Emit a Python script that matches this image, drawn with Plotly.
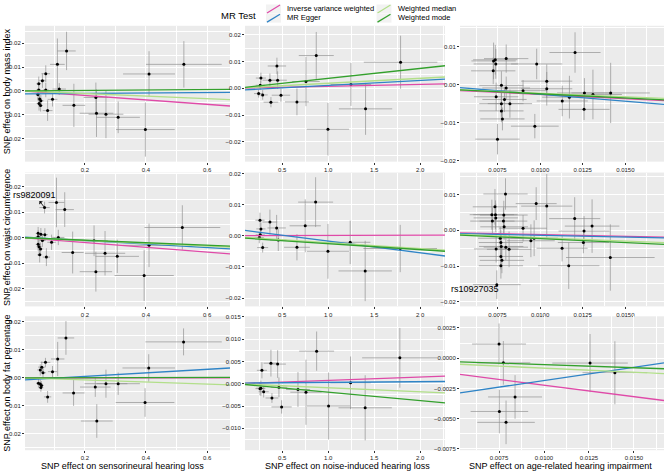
import plotly.graph_objects as go

W, H = 669, 476

# ---------------- data (SNP effects and standard errors) ----------------
# Row 1: body mass index ; Row 2: waist circumference ; Row 3: body fat percentage
# Col 1: sensorineural hearing loss ; Col 2: noise-induced hearing loss ; Col 3: age-related hearing impairment

bmi_snhl_x = [0.140, 0.110, 0.116, 0.072, 0.061, 0.049, 0.049, 0.072, 0.046, 0.052, 0.056, 0.055, 0.050, 0.078, 0.094, 0.164, 0.236, 0.238, 0.269, 0.309, 0.398, 0.410, 0.524]
bmi_snhl_xse = [0.030, 0.024, 0.022, 0.014, 0.010, 0.008, 0.008, 0.010, 0.007, 0.008, 0.009, 0.008, 0.008, 0.016, 0.016, 0.037, 0.040, 0.055, 0.057, 0.071, 0.096, 0.085, 0.124]
bmi_snhl_y = [0.0167, 0.0111, 0.0008, 0.0072, 0.0043, 0.0030, 0.0004, 0.0004, -0.0015, -0.0033, -0.0041, -0.0061, -0.0052, -0.0082, -0.0035, -0.0060, -0.0027, -0.0093, -0.0097, -0.0110, -0.0161, 0.0071, 0.0111]
bmi_snhl_yse = [0.0080, 0.0108, 0.0025, 0.0035, 0.0030, 0.0030, 0.0030, 0.0030, 0.0025, 0.0025, 0.0025, 0.0025, 0.0030, 0.0043, 0.0030, 0.0090, 0.0062, 0.0099, 0.0100, 0.0066, 0.0113, 0.0095, 0.0097]

bmi_nihl_x = [0.268, 0.261, 0.243, 0.287, 0.366, 0.377, 0.442, 0.450, 0.486, 0.660, 0.758, 0.870, 0.997, 1.247, 1.406, 1.787]
bmi_nihl_xse = [0.055, 0.050, 0.050, 0.055, 0.080, 0.080, 0.100, 0.100, 0.100, 0.130, 0.150, 0.190, 0.230, 0.220, 0.290, 0.400]
bmi_nihl_y = [0.0038, 0.0011, -0.0020, -0.0025, 0.0030, -0.0052, 0.0083, 0.0030, -0.0026, -0.0051, 0.0025, 0.0122, -0.0153, 0.0014, -0.0077, 0.0097]
bmi_nihl_yse = [0.0020, 0.0017, 0.0015, 0.0018, 0.0025, 0.0019, 0.0031, 0.0033, 0.0025, 0.0050, 0.0092, 0.0088, 0.0098, 0.0080, 0.0097, 0.0099]

bmi_arhi_x = [0.00727, 0.00737, 0.00740, 0.00725, 0.00801, 0.00773, 0.00801, 0.00742, 0.00791, 0.00773, 0.00823, 0.00773, 0.00779, 0.00750, 0.00900, 0.00980, 0.01039, 0.01039, 0.00969, 0.01205, 0.01130, 0.01172, 0.01260, 0.01258, 0.01310, 0.01414]
bmi_arhi_xse = [0.0013, 0.0013, 0.0013, 0.0013, 0.0013, 0.0013, 0.0014, 0.0013, 0.0013, 0.0013, 0.0013, 0.0013, 0.0013, 0.0013, 0.0014, 0.0015, 0.0015, 0.0015, 0.0014, 0.0015, 0.0015, 0.0016, 0.0016, 0.0015, 0.0017, 0.0023]
bmi_arhi_y = [0.0062, 0.0065, 0.0054, 0.0036, 0.0068, -0.0002, -0.0009, -0.0032, -0.0039, -0.0050, -0.0050, -0.0069, -0.0090, -0.0143, -0.0016, 0.0054, 0.0009, -0.0011, -0.0109, 0.0084, -0.0043, -0.0033, -0.0022, -0.0065, -0.0026, -0.0022]
bmi_arhi_yse = [0.0048, 0.0039, 0.0039, 0.0035, 0.0037, 0.0037, 0.0030, 0.0037, 0.0033, 0.0034, 0.0037, 0.0030, 0.0030, 0.0040, 0.0028, 0.0040, 0.0044, 0.0044, 0.0032, 0.0053, 0.0040, 0.0056, 0.0039, 0.0028, 0.0065, 0.0079]

wc_snhl_x = [0.068, 0.107, 0.134, 0.047, 0.056, 0.047, 0.069, 0.113, 0.047, 0.050, 0.055, 0.061, 0.052, 0.074, 0.091, 0.160, 0.230, 0.236, 0.266, 0.306, 0.394, 0.410, 0.519]
wc_snhl_xse = [0.017, 0.026, 0.030, 0.008, 0.009, 0.008, 0.010, 0.020, 0.008, 0.008, 0.009, 0.010, 0.008, 0.012, 0.014, 0.036, 0.045, 0.053, 0.066, 0.071, 0.097, 0.085, 0.124]
wc_snhl_y = [0.0118, 0.0138, 0.0110, 0.0017, 0.0013, 0.0004, 0.0012, 0.0001, -0.0026, -0.0035, -0.0044, -0.0011, -0.0067, -0.0076, -0.0018, -0.0058, -0.0012, -0.0133, -0.0061, -0.0073, -0.0148, -0.0030, 0.0040]
wc_snhl_yse = [0.0023, 0.0097, 0.0068, 0.0025, 0.0025, 0.0025, 0.0025, 0.0030, 0.0025, 0.0025, 0.0025, 0.0025, 0.0030, 0.0035, 0.0030, 0.0082, 0.0060, 0.0078, 0.0087, 0.0065, 0.0100, 0.0085, 0.0087]

wc_nihl_x = [0.258, 0.268, 0.261, 0.250, 0.287, 0.366, 0.439, 0.457, 0.660, 0.750, 0.863, 0.997, 1.239, 1.402, 1.783]
wc_nihl_xse = [0.050, 0.050, 0.050, 0.050, 0.060, 0.080, 0.100, 0.090, 0.140, 0.170, 0.190, 0.230, 0.220, 0.290, 0.400]
wc_nihl_y = [0.0050, 0.0022, 0.0003, -0.0006, -0.0038, 0.0044, 0.0025, -0.0014, -0.0037, 0.0032, 0.0108, -0.0050, -0.0021, -0.0113, -0.0041]
wc_nihl_yse = [0.0024, 0.0020, 0.0018, 0.0018, 0.0016, 0.0040, 0.0042, 0.0035, 0.0042, 0.0085, 0.0080, 0.0088, 0.0070, 0.0097, 0.0076]

wc_arhi_x = [0.00797, 0.00735, 0.00717, 0.00738, 0.00740, 0.00720, 0.00787, 0.00785, 0.00789, 0.00766, 0.00770, 0.00772, 0.00742, 0.00799, 0.00818, 0.00770, 0.00776, 0.00770, 0.00746, 0.00900, 0.00946, 0.00965, 0.00977, 0.01039, 0.01203, 0.01258, 0.01254, 0.01305, 0.01129, 0.01168, 0.01412]
wc_arhi_xse = [0.0013, 0.0013, 0.0013, 0.0013, 0.0013, 0.0013, 0.0014, 0.0014, 0.0014, 0.0013, 0.0013, 0.0013, 0.0013, 0.0013, 0.0013, 0.0013, 0.0013, 0.0013, 0.0014, 0.0014, 0.0014, 0.0014, 0.0012, 0.0015, 0.0015, 0.0015, 0.0015, 0.0016, 0.0015, 0.0018, 0.0026]
wc_arhi_y = [0.0102, 0.0066, 0.0044, 0.0044, 0.0035, 0.0026, 0.0043, 0.0026, 0.0010, -0.0022, -0.0034, -0.0045, -0.0052, -0.0047, -0.0053, -0.0073, -0.0084, -0.0099, -0.0152, 0.0006, -0.0029, -0.0022, 0.0075, 0.0068, 0.0033, -0.0002, -0.0034, 0.0012, -0.0050, -0.0099, -0.0076]
wc_arhi_yse = [0.0044, 0.0050, 0.0042, 0.0040, 0.0040, 0.0038, 0.0040, 0.0038, 0.0036, 0.0032, 0.0035, 0.0036, 0.0038, 0.0036, 0.0050, 0.0036, 0.0036, 0.0036, 0.0040, 0.0037, 0.0046, 0.0050, 0.0046, 0.0090, 0.0060, 0.0042, 0.0030, 0.0075, 0.0037, 0.0065, 0.0093]

bfp_snhl_x = [0.138, 0.111, 0.071, 0.059, 0.054, 0.063, 0.094, 0.048, 0.054, 0.058, 0.056, 0.078, 0.163, 0.234, 0.239, 0.269, 0.309, 0.397, 0.409, 0.523]
bfp_snhl_xse = [0.027, 0.022, 0.016, 0.012, 0.010, 0.010, 0.015, 0.008, 0.008, 0.008, 0.008, 0.012, 0.036, 0.050, 0.052, 0.070, 0.071, 0.096, 0.086, 0.125]
bfp_snhl_y = [0.0142, 0.0067, 0.0055, 0.0038, 0.0028, 0.0018, 0.0022, -0.0019, -0.0022, -0.0027, -0.0035, -0.0068, -0.0054, -0.0033, -0.0154, -0.0021, -0.0021, -0.0088, 0.0035, 0.0128]
bfp_snhl_yse = [0.0060, 0.0061, 0.0016, 0.0020, 0.0020, 0.0020, 0.0020, 0.0015, 0.0015, 0.0015, 0.0015, 0.0021, 0.0046, 0.0035, 0.0060, 0.0050, 0.0040, 0.0051, 0.0049, 0.0048]

bfp_nihl_x = [0.279, 0.268, 0.258, 0.298, 0.377, 0.450, 0.388, 0.464, 0.493, 0.671, 0.758, 0.874, 1.004, 1.243, 1.402, 1.779]
bfp_nihl_xse = [0.055, 0.050, 0.050, 0.055, 0.080, 0.090, 0.070, 0.090, 0.110, 0.130, 0.170, 0.190, 0.235, 0.220, 0.290, 0.410]
bfp_nihl_y = [0.0030, -0.0010, -0.0011, -0.0018, 0.0046, 0.0044, -0.0032, -0.0008, -0.0052, -0.0013, -0.0019, 0.0073, -0.0050, 0.0002, -0.0054, 0.0058]
bfp_nihl_yse = [0.0018, 0.0017, 0.0015, 0.0013, 0.0030, 0.0031, 0.0011, 0.0022, 0.0015, 0.0039, 0.0073, 0.0044, 0.0075, 0.0059, 0.0073, 0.0067]

bfp_arhi_x = [0.00750, 0.00774, 0.00839, 0.00752, 0.00789, 0.01256, 0.01394]
bfp_arhi_xse = [0.0015, 0.0015, 0.0015, 0.0016, 0.0016, 0.0021, 0.0018]
bfp_arhi_y = [0.00117, -0.00038, -0.00320, -0.00440, -0.00530, -0.00040, -0.00120]
bfp_arhi_yse = [0.0017, 0.0018, 0.0018, 0.0018, 0.0018, 0.0024, 0.0026]

# MR estimates per panel, order: (1,1) (1,2) (1,3) (2,1) (2,2) (2,3) (3,1) (3,2) (3,3)
methods = ["Inverse variance weighted", "MR Egger", "Weighted median", "Weighted mode"]
ivw_slope = [-0.0093, 0.0007, -0.22, -0.0094, 0.0001, -0.100, 0.0000, 0.00075, -0.190]
ivw_int = [0, 0, -0.00039, 0, 0, -0.00017, 0, 0, -0.000327]
egger_slope = [0.00097, 0.00184, -0.368, -0.00686, -0.00377, -0.100, 0.00626, 0.00016, 0.2187]
egger_int = [-0.00125, -0.00077, 0.00115, 0.00023, 0.00206, -0.00037, -0.00073, 0.00013, -0.00403]
median_slope = [-0.0054, 0.00185, -0.184, -0.0055, -0.00189, -0.192, -0.0037, -0.0009, -0.0688]
median_int = [0, 0, -0.00042, 0, -0.00032, -0.0001, 0, 0, -0.000133]
mode_slope = [0.0010, 0.0037, -0.217, -0.0049, -0.00193, -0.217, 0.0002, -0.0019, -0.0503]
mode_int = [0, 0, -0.00025, 0, -0.0006, -0.00015, 0, 0, -0.000032]

row_titles = ["SNP effect on body mass index", "SNP effect on waist circumference", "SNP effect on body fat percentage"]
col_titles = ["SNP effect on sensorineural hearing loss", "SNP effect on noise-induced hearing loss", "SNP effect on age-related hearing impairment"]

# ---------------- layout / styling ----------------
COLORS = ["#df4aa8", "#2f84c6", "#b2df8a", "#33a02c"]
FONT = "Liberation Sans, Arial, sans-serif"
NARROW = "Liberation Sans Narrow, Liberation Sans, Arial, sans-serif"

def px_x(p):
    return p / W

def px_y(p):
    return 1 - p / H

col_dom = [(25, 230), (245, 445), (460, 664)]
row_dom = [(24, 161), (172, 307), (317, 452)]

panels = [
    (bmi_snhl_x, bmi_snhl_xse, bmi_snhl_y, bmi_snhl_yse),
    (bmi_nihl_x, bmi_nihl_xse, bmi_nihl_y, bmi_nihl_yse),
    (bmi_arhi_x, bmi_arhi_xse, bmi_arhi_y, bmi_arhi_yse),
    (wc_snhl_x, wc_snhl_xse, wc_snhl_y, wc_snhl_yse),
    (wc_nihl_x, wc_nihl_xse, wc_nihl_y, wc_nihl_yse),
    (wc_arhi_x, wc_arhi_xse, wc_arhi_y, wc_arhi_yse),
    (bfp_snhl_x, bfp_snhl_xse, bfp_snhl_y, bfp_snhl_yse),
    (bfp_nihl_x, bfp_nihl_xse, bfp_nihl_y, bfp_nihl_yse),
    (bfp_arhi_x, bfp_arhi_xse, bfp_arhi_y, bfp_arhi_yse),
]

x_ranges = [[0.004, 0.675], [0.095, 2.27], [0.0053, 0.01727],
            [0.004, 0.675], [0.095, 2.27], [0.0053, 0.01727],
            [0.004, 0.675], [0.095, 2.27], [0.00533, 0.01667]]
y_ranges = [[-0.0295, 0.0272], [-0.0274, 0.0233], [-0.0202, 0.0154],
            [-0.0269, 0.0255], [-0.0227, 0.0203], [-0.0213, 0.0162],
            [-0.0258, 0.0219], [-0.0149, 0.0151], [-0.0076, 0.00346]]
x_dt = [0.2, 0.5, 0.0025]
x_fmt = [".1f", ".1f", ".4f"]
y_dt = [0.01, 0.01, 0.01, 0.01, 0.01, 0.01, 0.01, 0.005, 0.0025]
y_fmt = [".2f", ".2f", ".2f", ".2f", ".2f", ".2f", ".2f", ".3f", ".4f"]

slopes = [ivw_slope, egger_slope, median_slope, mode_slope]
ints = [ivw_int, egger_int, median_int, mode_int]

fig = go.Figure()
layout = {}
for i, (bx, bxse, by, byse) in enumerate(panels):
    r, c = divmod(i, 3)
    n = i + 1
    xa = "x" if n == 1 else f"x{n}"
    ya = "y" if n == 1 else f"y{n}"
    fig.add_trace(go.Scatter(
        x=bx, y=by, mode="markers", xaxis=xa, yaxis=ya, showlegend=False,
        marker=dict(color="black", size=3),
        error_x=dict(type="data", array=bxse, color="rgba(140,140,140,0.65)", thickness=1, width=0),
        error_y=dict(type="data", array=byse, color="rgba(140,140,140,0.65)", thickness=1, width=0),
        hoverinfo="skip"))
    x0, x1 = x_ranges[i]
    for m in range(4):
        s, b = slopes[m][i], ints[m][i]
        fig.add_trace(go.Scatter(
            x=[x0, x1], y=[b + s * x0, b + s * x1], mode="lines", xaxis=xa, yaxis=ya,
            line=dict(color=COLORS[m], width=1.3), name=methods[m], showlegend=False,
            hoverinfo="skip"))
    key_x = "xaxis" if n == 1 else f"xaxis{n}"
    key_y = "yaxis" if n == 1 else f"yaxis{n}"
    grid = dict(showgrid=True, gridcolor="white", gridwidth=1, zeroline=False, showline=False,
                ticks="outside", ticklen=2, tickwidth=0.6, tickcolor="#333333",
                tickfont=dict(family=NARROW, size=6, color="#222222"), tickmode="linear", tick0=0)
    layout[key_x] = dict(grid, domain=[px_x(col_dom[c][0]), px_x(col_dom[c][1])], range=x_ranges[i],
                         anchor=ya, dtick=x_dt[c], tickformat=x_fmt[c],
                         minor=dict(dtick=x_dt[c] / 2, tick0=0, showgrid=True, gridcolor="white", gridwidth=0.5))
    layout[key_y] = dict(grid, domain=[px_y(row_dom[r][1]), px_y(row_dom[r][0])], range=y_ranges[i],
                         anchor=xa, dtick=y_dt[i], tickformat=y_fmt[i],
                         minor=dict(dtick=y_dt[i] / 2, tick0=0, showgrid=True, gridcolor="white", gridwidth=0.5))

annotations = []
row_centers = [90, 238, 385]
for r, t in enumerate(row_titles):
    annotations.append(dict(text=t, x=px_x(7), y=px_y(row_centers[r]), xref="paper", yref="paper",
                            textangle=-90, showarrow=False, font=dict(family=FONT, size=9, color="black"),
                            xanchor="center", yanchor="middle"))
col_centers = [122, 347, 560]
for c, t in enumerate(col_titles):
    annotations.append(dict(text=t, x=px_x(col_centers[c]), y=px_y(467.5), xref="paper", yref="paper",
                            showarrow=False, font=dict(family=FONT, size=9, color="black"),
                            xanchor="center", yanchor="middle"))

# SNP labels
annotations.append(dict(text="rs9820091", x=wc_snhl_x[0], y=wc_snhl_y[0], xref="x4", yref="y4",
                        ax=-10, ay=-13, showarrow=True, arrowside="start", arrowhead=2, arrowsize=0.8,
                        arrowwidth=0.8, arrowcolor="black", standoff=1,
                        font=dict(family=FONT, size=9, color="black")))
annotations.append(dict(text="rs10927035", x=wc_arhi_x[18], y=wc_arhi_y[18], xref="x6", yref="y6",
                        ax=-22, ay=4, showarrow=True, arrowhead=0, arrowwidth=0.5,
                        arrowcolor="rgba(0,0,0,0)",
                        font=dict(family=FONT, size=9, color="black")))

# Legend (drawn)
shapes = []
annotations.append(dict(text="MR Test", x=px_x(238.5), y=px_y(13.3), xref="paper", yref="paper",
                        showarrow=False, font=dict(family=FONT, size=9.5, color="black"),
                        xanchor="center", yanchor="middle"))
key_pos = [(266, 2.5), (266, 11.8), (376.5, 2.5), (376.5, 11.8)]
for m, (kx, ky) in enumerate(key_pos):
    shapes.append(dict(type="rect", xref="paper", yref="paper",
                       x0=px_x(kx), x1=px_x(kx + 15), y0=px_y(ky + 9), y1=px_y(ky),
                       fillcolor="#f2f2f2", line=dict(width=0), layer="below"))
    shapes.append(dict(type="line", xref="paper", yref="paper",
                       x0=px_x(kx + 1), x1=px_x(kx + 14), y0=px_y(ky + 8.5), y1=px_y(ky + 0.5),
                       line=dict(color=COLORS[m], width=1.2)))
    annotations.append(dict(text=methods[m], x=px_x(kx + 19), y=px_y(ky + 4.3), xref="paper", yref="paper",
                            showarrow=False, font=dict(family=FONT, size=7.5, color="black"),
                            xanchor="left", yanchor="middle"))

fig.update_layout(
    width=W, height=H, margin=dict(l=0, r=0, t=0, b=0),
    paper_bgcolor="white", plot_bgcolor="#EBEBEB",
    showlegend=False, annotations=annotations, shapes=shapes,
    font=dict(family=FONT),
    **layout)

fig.write_html("out.html", config={"displayModeBar": False},
               post_script="document.body.style.margin='0px';document.body.style.overflow='hidden';")
